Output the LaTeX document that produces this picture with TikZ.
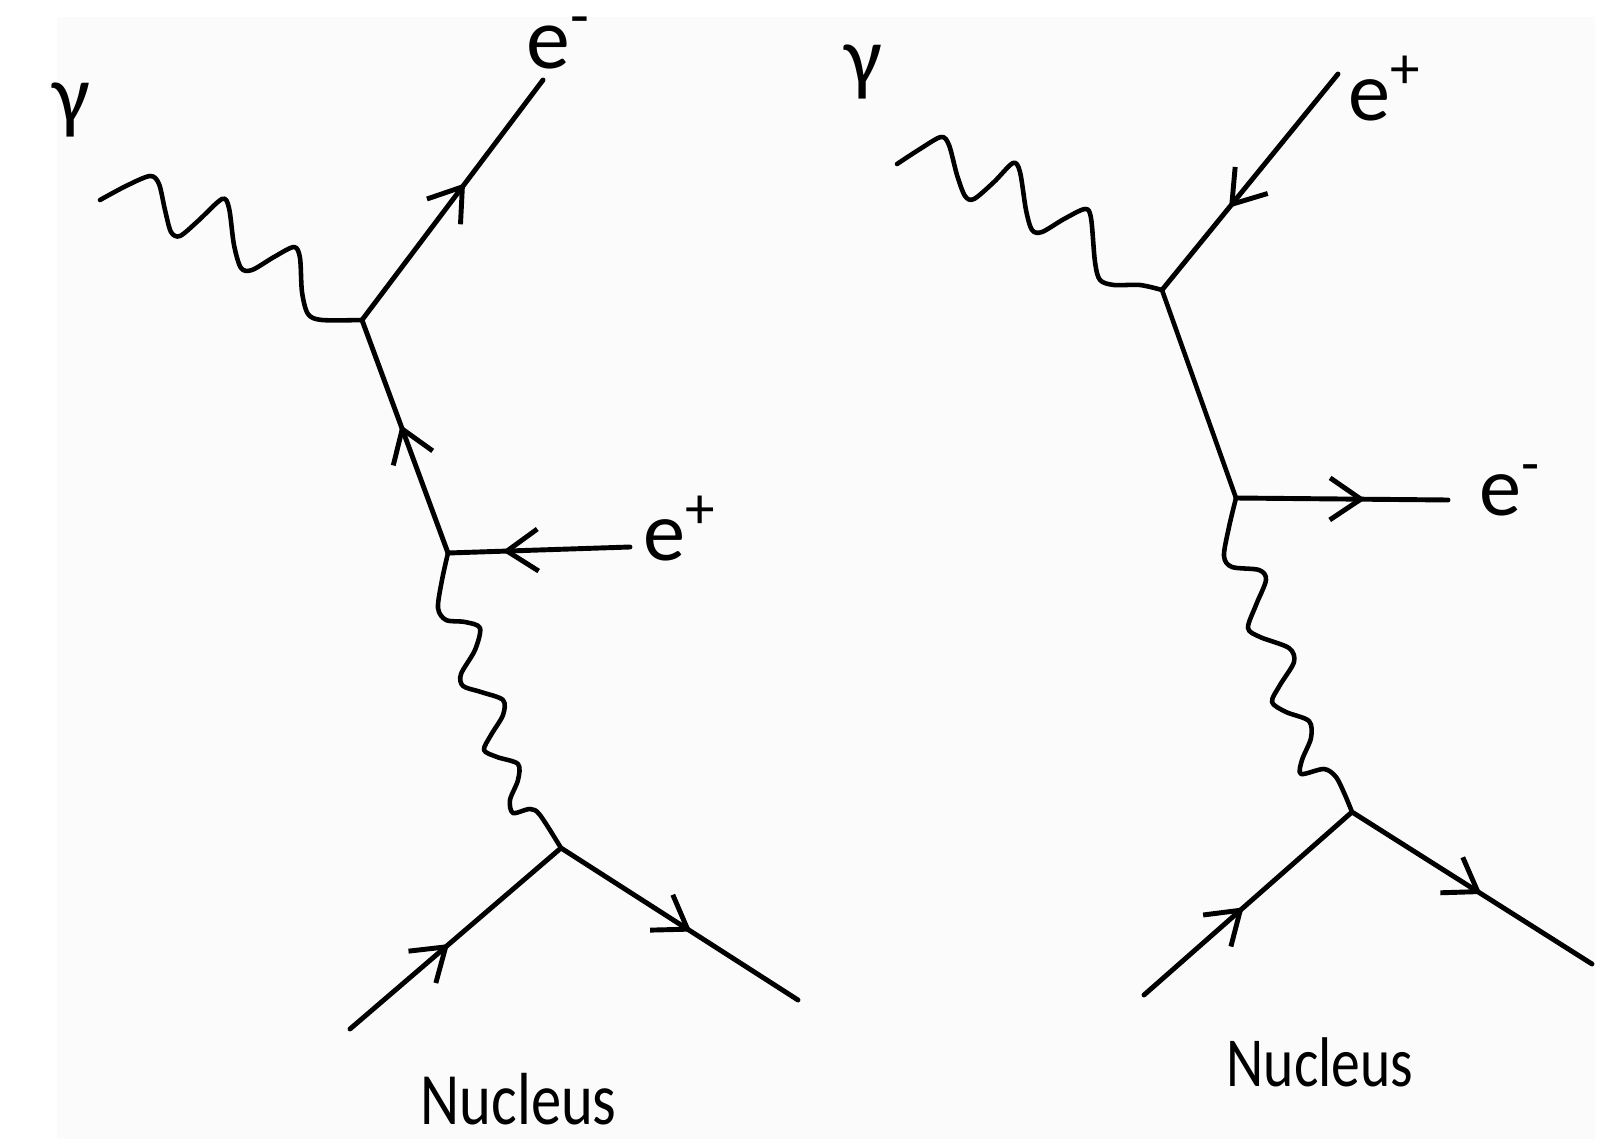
\documentclass[tikz,border=0pt]{standalone}
\usepackage{fontspec}
\setmainfont{Carlito}
\usetikzlibrary{decorations.markings,arrows.meta}
\begin{document}
\begin{tikzpicture}[x=0.1mm,y=-0.1mm,
  fermion/.style={line width=1.4pt, line cap=round, postaction={decorate},
    decoration={markings, mark=at position #1 with {\arrow{Straight Barb[length=3.1mm,width=4.2mm]}}}},
  plain/.style={line width=1.3pt, line cap=round},
  photon/.style={line width=1.3pt, line cap=round, line join=round},
  lbl/.style={inner sep=0pt, font=\fontsize{24}{28}\selectfont},
  nuc/.style={inner sep=0pt, font=\fontsize{21}{25}\selectfont}
]
\useasboundingbox (0,0) rectangle (1614,1139);
\fill[white] (0,0) rectangle (1614,1139);
\fill[gray!3] (57,17) rectangle (1595,1139);

% ---------- left diagram ----------
\coordinate (gL) at (100,200);
\coordinate (A) at (362,320);
\coordinate (emL) at (543,80);
\coordinate (B) at (448,553);
\coordinate (epL) at (630,547);
\coordinate (C) at (561,848);
\coordinate (nLin) at (350,1029);
\coordinate (nLout) at (798,1000);

\draw[photon] plot[smooth, tension=0.5] coordinates {(gL) (126,186) (150,176) (159,184) (165,210) (171,232) (180,236) (198,221) (222,199) (229,208) (234,245) (241,268) (252,270) (274,257) (294,247) (300,258) (302,292) (308,314) (322,320) (A)};
\draw[fermion=0.57] (A) -- (emL);
\draw[fermion=0.55] (B) -- (A);
\draw[fermion=0.70] (epL) -- (B);
\draw[photon] plot[smooth, tension=0.5] coordinates {(B) (442,580) (438,608) (446,620) (465,622) (480,628) (475,650) (461,674) (463,686) (481,692) (503,700) (503,715) (491,735) (484,750) (497,757) (518,764) (518,780) (510,800) (513,813) (530,809) (540,815) (C)};
\draw[fermion=0.47] (nLin) -- (C);
\draw[fermion=0.55] (C) -- (nLout);

\node[lbl, anchor=base west] (gammaL) at (52,123) {γ};
\node[lbl, font=\fontsize{25}{29}\selectfont, anchor=base west] (emLlbl) at (526,68) {e\textsuperscript{-}};
\node[lbl, anchor=base west] (epLlbl) at (643,560) {e\textsuperscript{+}};
\node[nuc, anchor=base west] (nucL) at (420,1124) {\scalebox{0.82}[1]{Nucleus}};

% ---------- right diagram ----------
\coordinate (gR) at (897,164);
\coordinate (D) at (1162,290);
\coordinate (epR) at (1338,74);
\coordinate (E) at (1236,498);
\coordinate (emR) at (1448,500);
\coordinate (F) at (1352,812);
\coordinate (nRin) at (1144,995);
\coordinate (nRout) at (1592,964);

\draw[photon] plot[smooth, tension=0.5] coordinates {(gR) (920,149) (941,137) (949,145) (957,175) (965,196) (974,199) (994,182) (1013,163) (1020,172) (1026,210) (1032,230) (1042,232) (1064,219) (1085,209) (1091,218) (1095,262) (1100,280) (1114,285) (1140,285) (D)};
\draw[fermion=0.62] (epR) -- (D);
\draw[plain] (D) -- (E);
\draw[fermion=0.61] (E) -- (emR);
\draw[photon] plot[smooth, tension=0.5] coordinates {(E) (1229,527) (1224,556) (1232,567) (1259,570) (1266,580) (1256,605) (1248,628) (1260,637) (1289,648) (1294,662) (1280,685) (1272,702) (1286,712) (1309,721) (1311,738) (1302,760) (1301,774) (1324,769) (1336,777) (1345,795) (F)};
\draw[fermion=0.48] (nRin) -- (F);
\draw[fermion=0.54] (F) -- (nRout);

\node[lbl, anchor=base west] (gammaR) at (844,85) {γ};
\node[lbl, anchor=base west] (epRlbl) at (1348,120) {e\textsuperscript{+}};
\node[lbl, anchor=base west] (emRlbl) at (1479,515) {e\textsuperscript{-}};
\node[nuc, font=\fontsize{20}{24}\selectfont, anchor=base west] (nucR) at (1226,1086) {\scalebox{0.82}[1]{Nucleus}};
\end{tikzpicture}
\end{document}
